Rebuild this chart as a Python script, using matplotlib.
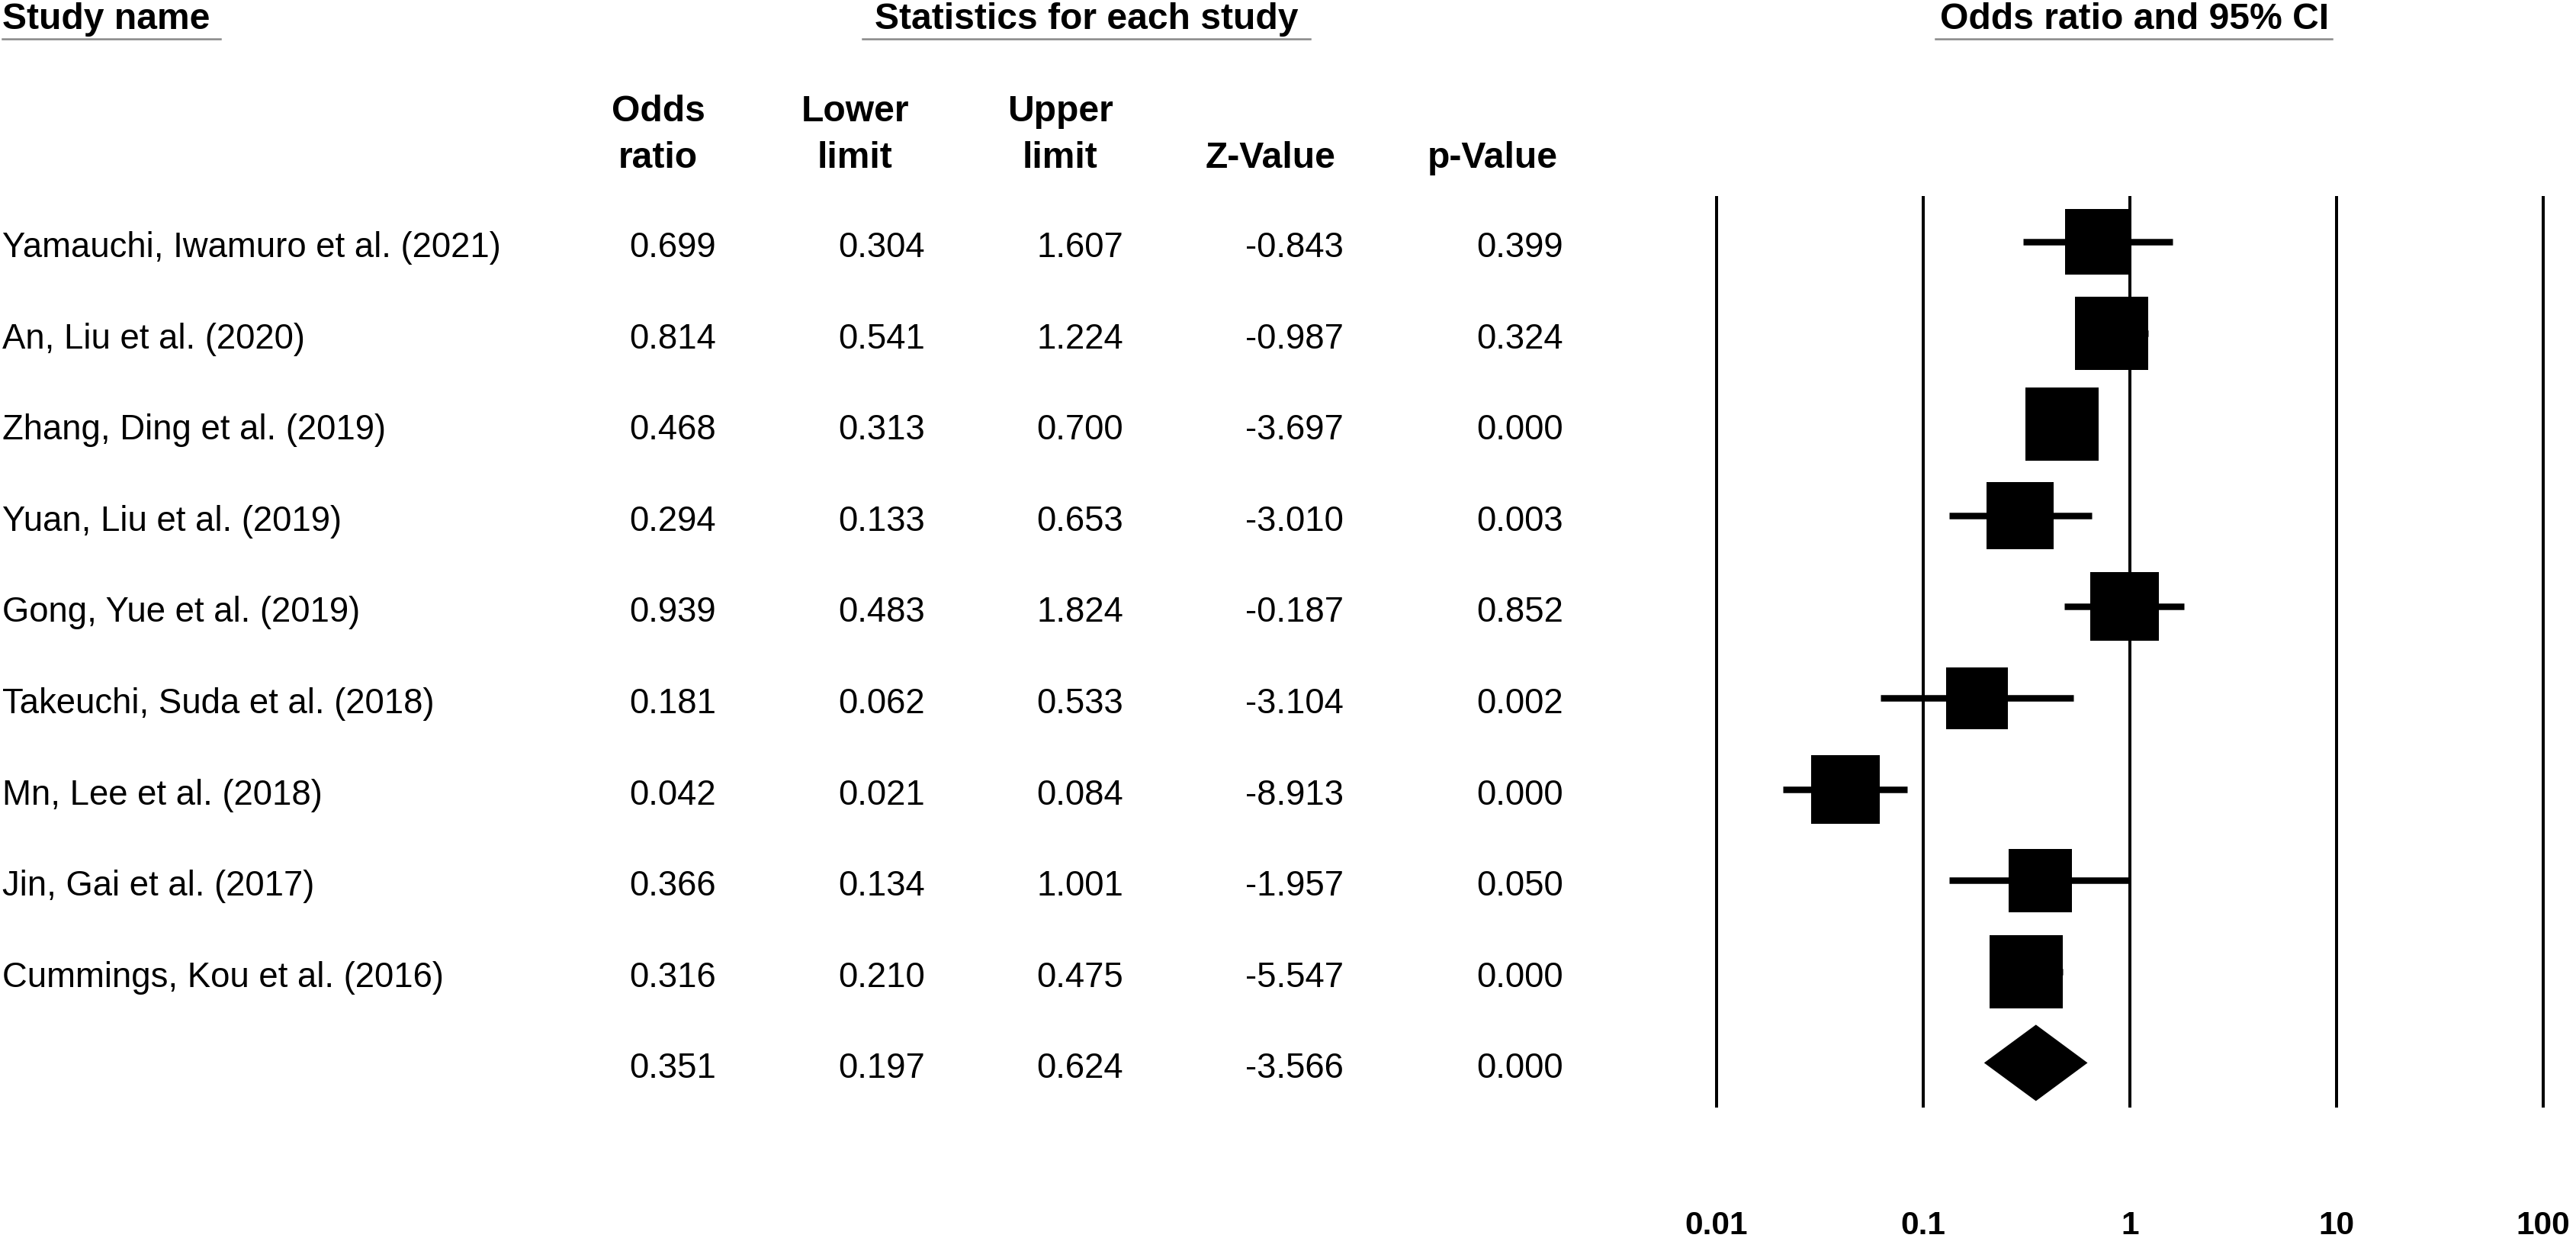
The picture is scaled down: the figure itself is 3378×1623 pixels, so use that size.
import matplotlib
matplotlib.use("Agg")
import matplotlib.pyplot as plt
import matplotlib.transforms as mtransforms
import numpy as np

# ---------------- data ----------------
studies = [
    "Yamauchi, Iwamuro et al. (2021)",
    "An, Liu et al. (2020)",
    "Zhang, Ding et al. (2019)",
    "Yuan, Liu et al. (2019)",
    "Gong, Yue et al. (2019)",
    "Takeuchi, Suda et al. (2018)",
    "Mn, Lee et al. (2018)",
    "Jin, Gai et al. (2017)",
    "Cummings, Kou et al. (2016)",
]
odds_ratio = [0.699, 0.814, 0.468, 0.294, 0.939, 0.181, 0.042, 0.366, 0.316]
lower_limit = [0.304, 0.541, 0.313, 0.133, 0.483, 0.062, 0.021, 0.134, 0.210]
upper_limit = [1.607, 1.224, 0.700, 0.653, 1.824, 0.533, 0.084, 1.001, 0.475]
z_value = [-0.843, -0.987, -3.697, -3.010, -0.187, -3.104, -8.913, -1.957, -5.547]
p_value = [0.399, 0.324, 0.000, 0.003, 0.852, 0.002, 0.000, 0.050, 0.000]

summary_or = 0.351
summary_lower = 0.197
summary_upper = 0.624
summary_z = -3.566
summary_p = 0.000

axis_ticks = [0.01, 0.1, 1, 10, 100]
axis_tick_labels = ["0.01", "0.1", "1", "10", "100"]

# ---------------- style ----------------
W, H = 3378, 1624
DPI = 200
box_px = [86, 95, 95, 88, 90, 81, 90, 83, 95]   # marker side (px) ~ study weight

plt.rcParams['font.family'] = ['Liberation Sans', 'DejaVu Sans']

fig = plt.figure(figsize=(W / DPI, H / DPI), dpi=DPI)
fig.patch.set_facecolor('white')

def fx(px):
    return px / W

def fy(py):
    return 1 - py / H

# forest axes
row0 = 318.0
row_h = 119.6
ax_top, ax_bot = 260.0, 1451.0
ax_left, ax_right = 2251.0, 3335.0
ax = fig.add_axes([fx(ax_left), fy(ax_bot), fx(ax_right) - fx(ax_left), (ax_bot - ax_top) / H])
ax.set_xscale('log')
ax.set_xlim(0.01, 100)
ax.set_ylim((ax_bot - row0) / row_h, (ax_top - row0) / row_h)
ax.axis('off')

for t in axis_ticks:
    ax.axvline(t, color='black', lw=4 * 72 / DPI, zorder=1, clip_on=False)

n = len(studies)
ys = np.arange(n)
for i in range(n):
    ax.plot([lower_limit[i], upper_limit[i]], [ys[i], ys[i]], color='black',
            lw=8.5 * 72 / DPI, solid_capstyle='butt', zorder=2)
    ax.plot([odds_ratio[i]], [ys[i]], marker='s', color='black',
            markersize=box_px[i] * 72 / DPI, markeredgewidth=0, zorder=3)

ys_sum = n
dh = 50 / row_h
ax.fill([summary_lower, summary_or, summary_upper, summary_or],
        [ys_sum, ys_sum - dh, ys_sum, ys_sum + dh], color='black', lw=0, zorder=3)

# tick labels
for t, lab in zip(axis_ticks, axis_tick_labels):
    xdisp = ax.transData.transform((t, 0))[0]
    fig.text(xdisp / fig.bbox.width, fy(1618), lab, ha='center', va='baseline',
             fontsize=15.3, fontweight='bold')

# headers
HFS = 17.3
fig.text(fx(3), fy(38), "Study name", ha='left', va='baseline', fontsize=HFS, fontweight='bold')
fig.text(fx(1425), fy(38), "Statistics for each study", ha='center', va='baseline', fontsize=HFS, fontweight='bold')
fig.text(fx(2799), fy(38), "Odds ratio and 95% CI", ha='center', va='baseline', fontsize=HFS, fontweight='bold')
for x0, x1 in [(3, 289), (1131, 1718), (2538, 3058)]:
    fig.add_artist(plt.Line2D([fx(x0), fx(x1)], [fy(52), fy(52)], color='#888888', lw=2.5 * 72 / DPI))

col_heads = [("Odds", "ratio", 863), ("Lower", "limit", 1121), ("Upper", "limit", 1390),
             ("", "Z-Value", 1666), ("", "p-Value", 1957)]
for l1, l2, cx in col_heads:
    if l1:
        fig.text(fx(cx), fy(159), l1, ha='center', va='baseline', fontsize=HFS, fontweight='bold')
    fig.text(fx(cx), fy(220), l2, ha='center', va='baseline', fontsize=HFS, fontweight='bold')

# table rows
DFS = 16.4
trans = mtransforms.blended_transform_factory(fig.transFigure, ax.transData) + \
    mtransforms.ScaledTranslation(0, -19 / DPI, fig.dpi_scale_trans)
right_edges = [939, 1213, 1473, 1762, 2050]
for i in range(n):
    fig.text(fx(3), ys[i], studies[i], ha='left', va='baseline', fontsize=DFS, transform=trans)
    vals = [odds_ratio[i], lower_limit[i], upper_limit[i], z_value[i], p_value[i]]
    for v, r in zip(vals, right_edges):
        fig.text(fx(r), ys[i], f"{v:.3f}", ha='right', va='baseline', fontsize=DFS, transform=trans)
for v, r in zip([summary_or, summary_lower, summary_upper, summary_z, summary_p], right_edges):
    fig.text(fx(r), ys_sum, f"{v:.3f}", ha='right', va='baseline', fontsize=DFS, transform=trans)

fig.savefig("out.png", dpi=DPI, facecolor='white')
